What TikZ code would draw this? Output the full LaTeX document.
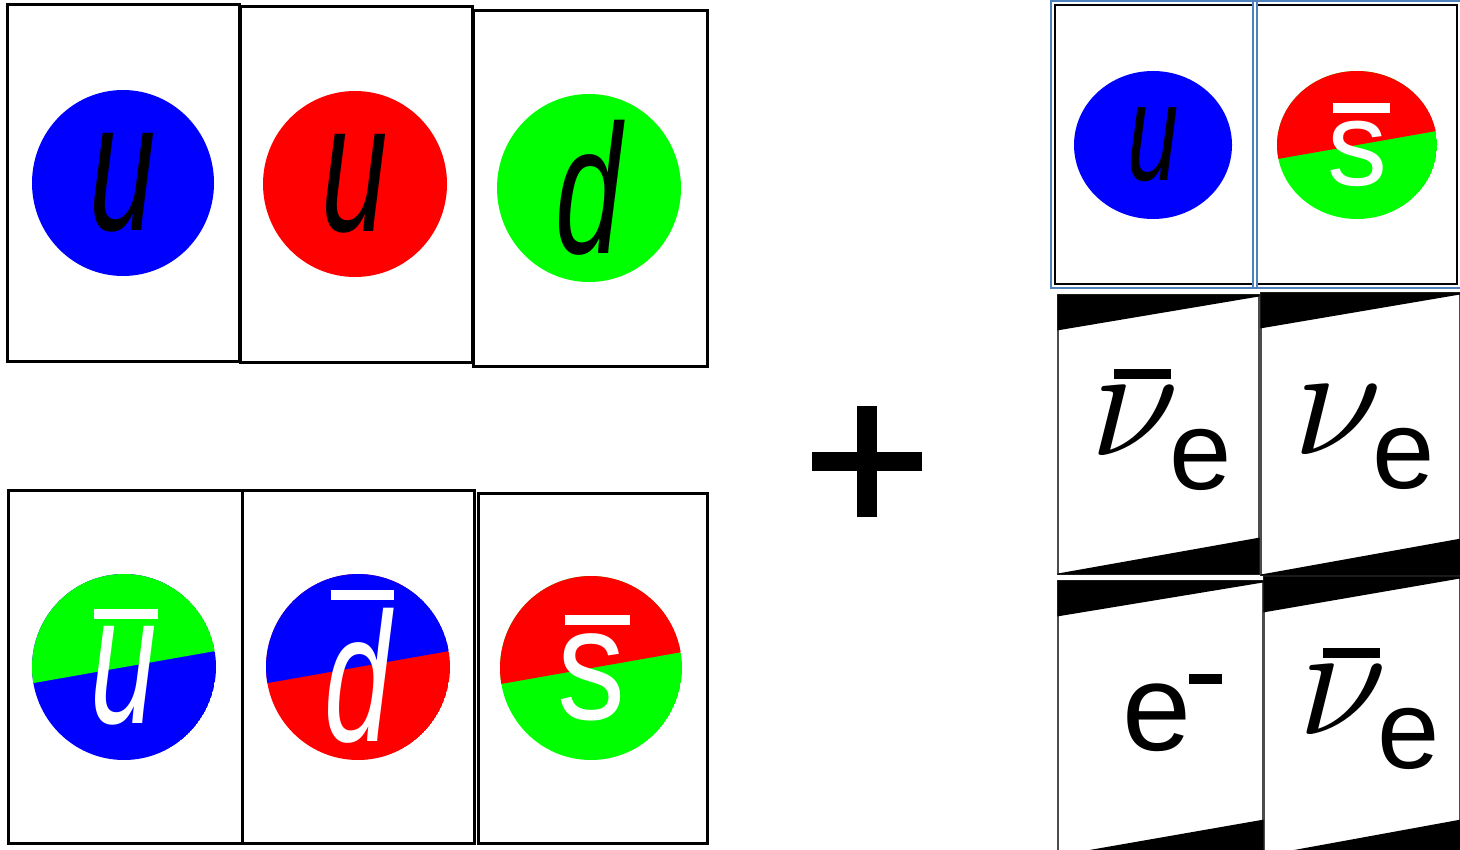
\documentclass[tikz,border=0pt]{standalone}
\usepackage{fontspec}
\setmainfont{Liberation Sans}
\usetikzlibrary{calc}
\definecolor{qblue}{RGB}{0,0,255}
\definecolor{qred}{RGB}{255,0,0}
\definecolor{qgreen}{RGB}{0,255,0}
\definecolor{frameblue}{RGB}{79,129,189}
\newsavebox\barbox
\newcommand{\fsize}[1]{\fontsize{#1pt}{#1pt}\selectfont}
\newcommand{\nue}{\scalebox{8}{\fsize{10}$\nu$}}
\newcommand{\barred}[3]{\sbox\barbox{#3}\vbox{\offinterlineskip\hbox to\wd\barbox{\hss\kern#2\rule{#1}{5pt}\hss}\kern4pt\copy\barbox}}
\newcommand{\splitdisk}[5]{%
  \begin{scope}
    \clip (#1) ellipse [x radius=#2, y radius=#3];
    \fill[#5] (#1) ellipse [x radius=#2, y radius=#3];
    \fill[#4, rotate around={10:(#1)}] ($(#1)+(-130,0)$) rectangle ($(#1)+(130,-130)$);
  \end{scope}}
\tikzset{card/.style={draw, line width=1.5pt, minimum width=116pt, minimum height=178pt, inner sep=0pt},
  kcard/.style={draw, line width=1pt, inner sep=0pt},
  frame/.style={draw=frameblue, line width=1pt},
  lepcard/.style={draw=black!70, line width=0.6pt, inner sep=0pt},
  quark/.style={inner sep=0pt, font=\itshape\fsize{92}},
  lep/.style={inner sep=0pt, font=\fsize{76}},
}

\begin{document}
\begin{tikzpicture}[x=0.5pt, y=-0.5pt]
  \fill[white] (0,0) rectangle (1460,850);
  \useasboundingbox (0,0) rectangle (1460,850);
  \clip (0,0) rectangle (1460,850);

  % proton-like row
  \node[card] (bu) at (123.5,183) {};
  \node[card] (bu2) at (356.5,184.5) {};
  \node[card, minimum width=117pt] (bd) at (590,188.5) {};
  % antiquark row
  \node[card, minimum width=117pt, minimum height=176.5pt] (au) at (125,666.5) {};
  \node[card, minimum height=176.5pt] (ad) at (358.5,666.5) {};
  \node[card, minimum width=114.5pt, minimum height=175pt] (as) at (592.5,668) {};

  \coordinate (c1) at (123,183);
  \coordinate (c2) at (355,184);
  \coordinate (c3) at (589,188);
  \coordinate (c4) at (124,667);
  \coordinate (c5) at (358,667);
  \coordinate (c6) at (591,668);

  \fill[qblue] (c1) ellipse [x radius=91, y radius=93];
  \fill[qred] (c2) ellipse [x radius=92, y radius=93];
  \fill[qgreen] (c3) ellipse [x radius=92, y radius=94];
  \splitdisk{c4}{92}{93}{qgreen}{qblue}
  \splitdisk{c5}{92}{93}{qblue}{qred}
  \splitdisk{c6}{91}{92}{qred}{qgreen}

  \node[quark] (q1) at (c1) {\scalebox{0.65}[1]{u}};
  \node[quark] (q2) at (c2) {\scalebox{0.65}[1]{u}};
  \node[quark] (q3) at (c3) {\scalebox{0.65}[1]{d}};
  \node[quark, text=white] (q4) at (c4) {\barred{32pt}{2pt}{\scalebox{0.65}[1]{u}}};
  \node[quark, text=white] (q5) at (c5) {\barred{31.5pt}{4pt}{\scalebox{0.65}[1]{d}}};
  \node[quark, text=white, font=\upshape\fsize{80}] (q6) at (c6) {\barred{32.5pt}{6pt}{\scalebox{0.85}[1]{s}}};

  % plus
  \coordinate (plus) at (867,461.5);
  \fill ($(plus)+(-55,-9.5)$) rectangle ($(plus)+(55,9.5)$);
  \fill ($(plus)+(-10,-55.5)$) rectangle ($(plus)+(10,55.5)$);

  % kaon
  \node[kcard, minimum width=99pt, minimum height=139.5pt] (ka) at (1154,144.5) {};
  \node[kcard, minimum width=100pt, minimum height=139.5pt] (kb) at (1357,144.5) {};
  \foreach \k in {ka,kb}
    \draw[frame] ([shift={(-3,-3)}]\k.north west) rectangle ([shift={(3,3)}]\k.south east);
  \coordinate (c7) at (1153,145);
  \coordinate (c8) at (1357,145);
  \fill[qblue] (c7) ellipse [x radius=79, y radius=74];
  \splitdisk{c8}{80}{74}{qred}{qgreen}
  \node[quark, font=\itshape\fsize{69}] (q7) at (c7) {\scalebox{0.67}[1]{u}};
  \node[quark, text=white, font=\upshape\fsize{60}] (q8) at (c8) {\barred{28.5pt}{4pt}{s}};

  % leptons
  \node[lepcard, minimum width=100.5pt, minimum height=139.5pt] (lc) at (1158.5,434.5) {};
  \node[lepcard, minimum width=99.5pt, minimum height=141pt] (ld) at (1360.5,434) {};
  \node[lepcard, minimum width=102.5pt, minimum height=137.5pt] (le) at (1160.5,718.5) {};
  \node[lepcard, minimum width=98pt, minimum height=139.5pt] (lf) at (1362,716.5) {};
  \foreach \k in {lc,ld,le,lf} {
    \fill (\k.north west) -- (\k.north east) -- ($(\k.north east)+(0,2)$) -- ($(\k.north west)+(0,36)$) -- cycle;
    \fill (\k.south west) -- (\k.south east) -- ($(\k.south east)+(0,-37)$) -- ($(\k.south west)+(0,-1)$) -- cycle;
  }
  \node[lep] (nc) at (1161,430) {\barred{28.5pt}{8pt}{\nue}\kern-5pt\raisebox{-17pt}{\fsize{56}e}};
  \node[lep] (nd) at (1364,438) {\nue\kern-5pt\raisebox{-17pt}{\fsize{56}e}};
  \node[lep] (ne) at (1172,713) {\fsize{62}e\kern-1pt\rule[33pt]{16.5pt}{5pt}};
  \node[lep] (nf) at (1369.5,709) {\barred{28.5pt}{8pt}{\nue}\kern-5pt\raisebox{-17pt}{\fsize{56}e}};
\end{tikzpicture}
\end{document}
